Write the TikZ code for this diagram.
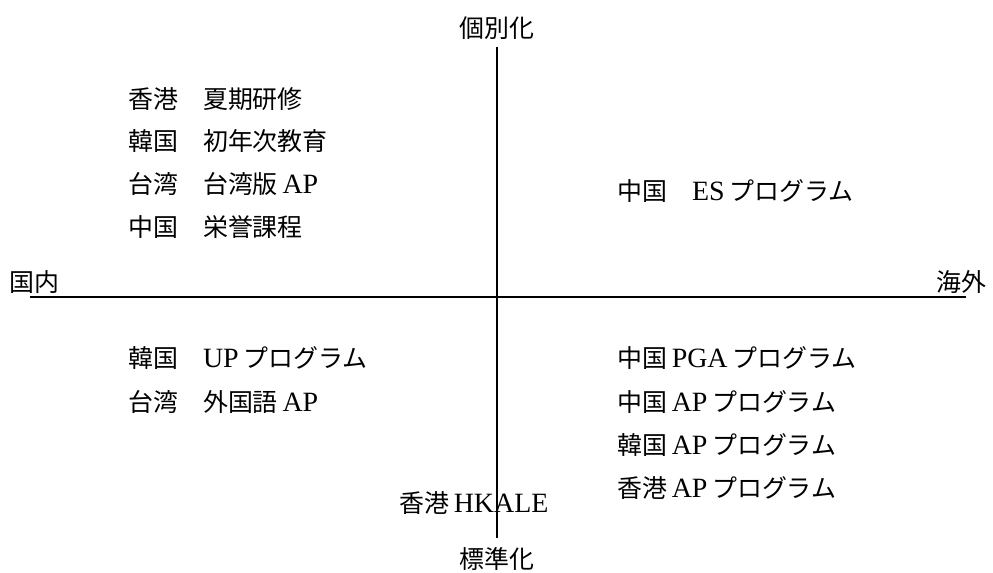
\documentclass[tikz,border=0pt]{standalone}
\usepackage{fontspec}
\setmainfont[Scale=1.12]{Liberation Serif}
\newfontfamily\cjk{Noto Sans CJK JP}
\newcommand{\jp}[1]{{\cjk #1}}
\begin{document}
\begin{tikzpicture}[x=0.75pt,y=-0.75pt,
  lbl/.style={inner sep=0pt, anchor=west, font=\fontsize{18.7}{22}\selectfont},
  axlbl/.style={inner sep=0pt, font=\fontsize{18.7}{22}\selectfont}]
\useasboundingbox (0,0) rectangle (993,573);
\coordinate (top) at (497,47);
\coordinate (bot) at (497,538);
\coordinate (lft) at (30,297);
\coordinate (rgt) at (966,297);
\draw[line width=0.9pt] (top) -- (bot);
\draw[line width=1.4pt] (lft) -- (rgt);
\node[axlbl] (indiv) at (497,28) {\jp{個別化}};
\node[axlbl] (std) at (497,559) {\jp{標準化}};
\node[axlbl, anchor=west] (dom) at (9,282) {\jp{国内}};
\node[axlbl, anchor=east] (ovs) at (987,282) {\jp{海外}};
% upper left
\node[lbl] (ul1) at (128,99) {\jp{香港　夏期研修}};
\node[lbl] (ul2) at (128,141) {\jp{韓国　初年次教育}};
\node[lbl] (ul3) at (128,184) {\jp{台湾　台湾版}\,AP};
\node[lbl] (ul4) at (128,227) {\jp{中国　栄誉課程}};
% upper right
\node[lbl] (ur1) at (617,191) {\jp{中国　}ES\,\jp{プログラム}};
% lower left
\node[lbl] (ll1) at (128,358) {\jp{韓国　}UP\,\jp{プログラム}};
\node[lbl] (ll2) at (128,402) {\jp{台湾　外国語}\,AP};
% lower right
\node[lbl] (lr1) at (617,358) {\jp{中国}\,PGA\,\jp{プログラム}};
\node[lbl] (lr2) at (617,402) {\jp{中国}\,AP\,\jp{プログラム}};
\node[lbl] (lr3) at (617,445) {\jp{韓国}\,AP\,\jp{プログラム}};
\node[lbl] (lr4) at (617,488) {\jp{香港}\,AP\,\jp{プログラム}};
% bottom
\node[lbl] (hk) at (399,503) {\jp{香港}\,HKALE};
\end{tikzpicture}
\end{document}
